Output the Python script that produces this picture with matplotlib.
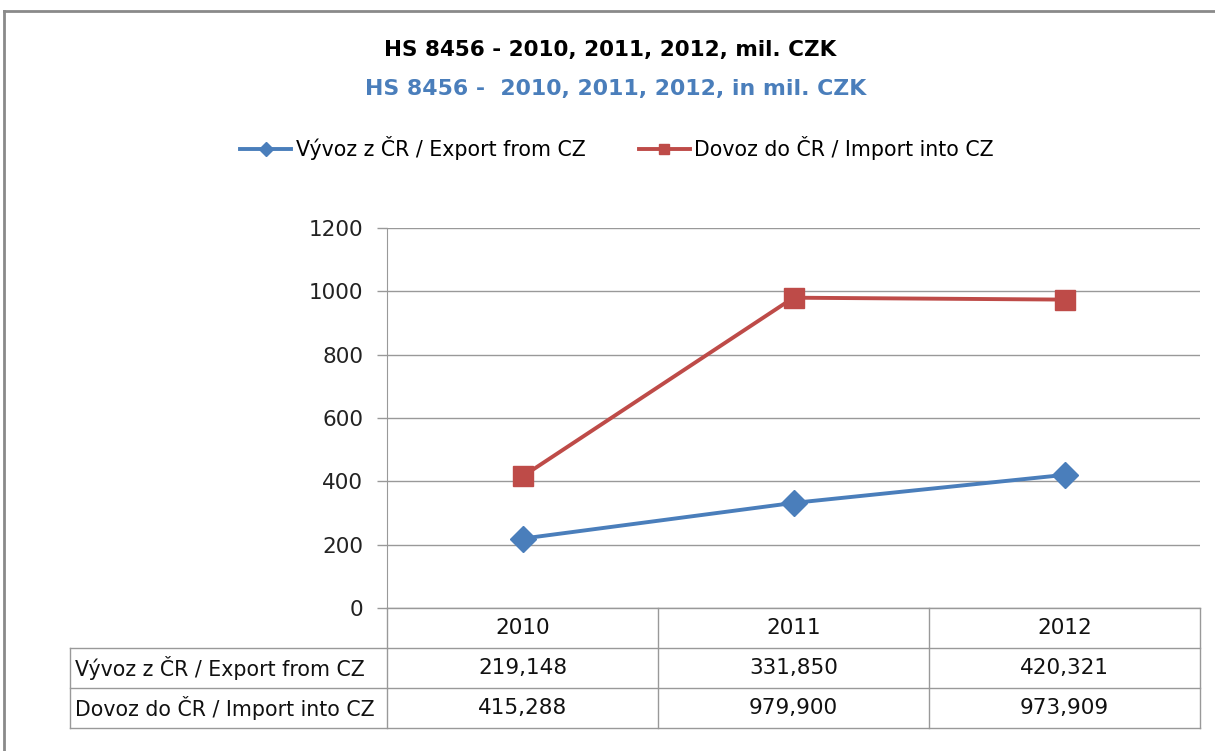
import matplotlib.pyplot as plt
from matplotlib.lines import Line2D

years = ["2010", "2011", "2012"]
series_names = ["Vývoz z ČR / Export from CZ", "Dovoz do ČR / Import into CZ"]
export_vals = [219.148, 331.850, 420.321]
import_vals = [415.288, 979.900, 973.909]
yticks = [0, 200, 400, 600, 800, 1000, 1200]

title = "HS 8456 - 2010, 2011, 2012, mil. CZK"
subtitle = "HS 8456 -  2010, 2011, 2012, in mil. CZK"

plt.rcParams['font.family'] = ['DejaVu Sans']

W, H = 1215, 751
blue = "#4A7EBB"
red = "#BE4B48"
grid_c = "#999999"

fig = plt.figure(figsize=(W / 100, H / 100), dpi=100)

# plot area in pixels
x0, x1, ytop, ybot = 387, 1200, 228, 608
ax = fig.add_axes([x0 / W, 1 - ybot / H, (x1 - x0) / W, (ybot - ytop) / H])

xs = range(len(years))
ax.plot(xs, export_vals, color=blue, lw=2.8, marker="D", ms=13, mec=blue, label=series_names[0])
ax.plot(xs, import_vals, color=red, lw=2.8, marker="s", ms=14, mec=red, label=series_names[1])

ax.set_xlim(-0.5, 2.5)
ax.set_ylim(0, 1200)
ax.set_yticks(yticks)
ax.set_yticklabels([str(v) for v in yticks], fontsize=15.5, color="#222222")
ax.set_xticks([])
ax.tick_params(axis="y", length=7, color=grid_c, width=1, pad=10)
ax.grid(axis="y", color=grid_c, lw=1)
ax.set_axisbelow(True)
for s in ["top", "right", "bottom"]:
    ax.spines[s].set_visible(False)
ax.spines["left"].set_color(grid_c)

# ---------- data table under the plot ---------- #
row_h = 40 / (ybot - ytop)
lab_left = (70 - x0) / (x1 - x0)
tab_kw = dict(transform=ax.transAxes, clip_on=False, color=grid_c, lw=1)
n = len(years)
for i in range(n + 1):
    ax.add_line(Line2D([i / n, i / n], [0, -3 * row_h], **tab_kw))
ax.add_line(Line2D([lab_left, lab_left], [-row_h, -3 * row_h], **tab_kw))
ax.add_line(Line2D([0, 1], [0, 0], **tab_kw))
for r in (1, 2, 3):
    ax.add_line(Line2D([lab_left, 1], [-r * row_h, -r * row_h], **tab_kw))

txt = dict(transform=ax.transAxes, color="#111111", va="center")
for i, y in enumerate(years):
    ax.text((i + 0.5) / n, -0.5 * row_h, y, ha="center", fontsize=15.5, **txt)
for r, (name, vals) in enumerate(zip(series_names, [export_vals, import_vals])):
    yy = -(r + 1.5) * row_h
    ax.text(lab_left + 0.006, yy, name, ha="left", fontsize=14.8, **txt)
    for i, v in enumerate(vals):
        ax.text((i + 0.5) / n, yy, f"{v:.3f}".replace(".", ","), ha="center", fontsize=15.5, **txt)

# ---------- titles and legend ---------- #
fig.text(610 / W, 1 - 50 / H, title, ha="center", va="center", fontsize=15.5, fontweight="bold", color="black")
fig.text(616 / W, 1 - 89 / H, subtitle, ha="center", va="center", fontsize=15.8, fontweight="bold", color=blue)

fig.legend(loc="center", bbox_to_anchor=(617 / W, 1 - 148 / H), ncol=2, frameon=False,
           fontsize=14.8, handlelength=2.5, columnspacing=2.6, handletextpad=0.2, markerscale=0.55)

# outer chart frame (cropped at right and bottom)
fig.add_artist(Line2D([4 / W, 1], [1 - 11 / H, 1 - 11 / H], color="#8A8A8A", lw=2))
fig.add_artist(Line2D([4 / W, 4 / W], [0, 1 - 11 / H], color="#8A8A8A", lw=2))

fig.savefig("out.png", dpi=100)
